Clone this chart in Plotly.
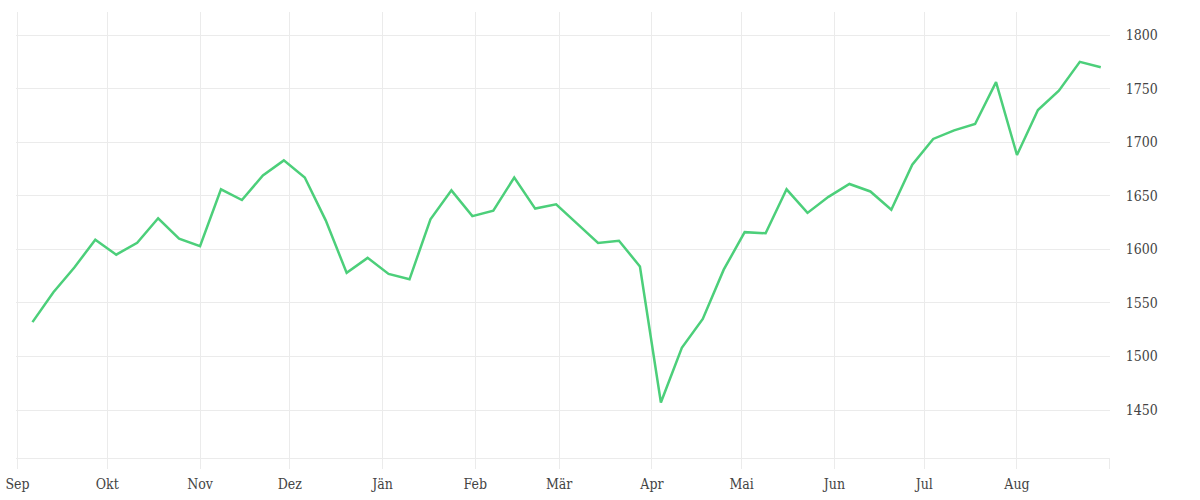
import plotly.graph_objects as go

dates = [
    "2024-09-06", "2024-09-13", "2024-09-20", "2024-09-27",
    "2024-10-04", "2024-10-11", "2024-10-18", "2024-10-25",
    "2024-11-01", "2024-11-08", "2024-11-15", "2024-11-22", "2024-11-29",
    "2024-12-06", "2024-12-13", "2024-12-20", "2024-12-27",
    "2025-01-03", "2025-01-10", "2025-01-17", "2025-01-24", "2025-01-31",
    "2025-02-07", "2025-02-14", "2025-02-21", "2025-02-28",
    "2025-03-07", "2025-03-14", "2025-03-21", "2025-03-28",
    "2025-04-04", "2025-04-11", "2025-04-18", "2025-04-25",
    "2025-05-02", "2025-05-09", "2025-05-16", "2025-05-23", "2025-05-30",
    "2025-06-06", "2025-06-13", "2025-06-20", "2025-06-27",
    "2025-07-04", "2025-07-11", "2025-07-18", "2025-07-25",
    "2025-08-01", "2025-08-08", "2025-08-15", "2025-08-22", "2025-08-29",
]

values = [
    1532, 1560, 1583, 1609,
    1595, 1606, 1629, 1610,
    1603, 1656, 1646, 1669, 1683,
    1667, 1627, 1578, 1592,
    1577, 1572, 1628, 1655, 1631,
    1636, 1667, 1638, 1642,
    1624, 1606, 1608, 1584,
    1457, 1508, 1535, 1581,
    1616, 1615, 1656, 1634, 1649,
    1661, 1654, 1637, 1679,
    1703, 1711, 1717, 1756,
    1688, 1730, 1748, 1775, 1770,
]

month_ticks = [
    "2024-09-01", "2024-10-01", "2024-11-01", "2024-12-01", "2025-01-01",
    "2025-02-01", "2025-03-01", "2025-04-01", "2025-05-01", "2025-06-01",
    "2025-07-01", "2025-08-01", "2025-09-01",
]
month_labels = ["Sep", "Okt", "Nov", "Dez", "Jän", "Feb", "Mär", "Apr",
                "Mai", "Jun", "Jul", "Aug", ""]

y_ticks = [1450, 1500, 1550, 1600, 1650, 1700, 1750, 1800]

GRID = "#ebebeb"
FONT = "DejaVu Serif Condensed, DejaVu Serif, serif"

fig = go.Figure()
fig.add_trace(go.Scatter(
    x=dates, y=values, mode="lines",
    line=dict(color="#4ccf7a", width=2.5),
    hoverinfo="x+y",
))

fig.update_layout(
    width=1200, height=500,
    margin=dict(l=16, r=90, t=12, b=42, autoexpand=False),
    paper_bgcolor="white", plot_bgcolor="white",
    showlegend=False,
    font=dict(family=FONT, size=14, color="#444"),
    xaxis=dict(
        type="date",
        range=["2024-08-31 12:00", "2025-09-01 02:00"],
        tickvals=month_ticks, ticktext=month_labels,
        showgrid=True, gridcolor=GRID, gridwidth=1,
        ticks="outside", ticklen=10, tickcolor=GRID, tickwidth=1,
        ticklabelstandoff=3, ticklabeloverflow="allow",
        showline=True, linecolor=GRID, linewidth=1,
        zeroline=False, automargin=False,
    ),
    yaxis=dict(
        side="right",
        range=[1405.2, 1821.5],
        tickvals=y_ticks,
        showgrid=True, gridcolor=GRID, gridwidth=1,
        ticks="outside", ticklen=12, tickcolor="rgba(0,0,0,0)",
        ticklabeloverflow="allow",
        showline=False, zeroline=False, automargin=False,
    ),
)

fig.write_html(
    "out.html",
    config={"displayModeBar": False},
    post_script="document.body.style.margin='0';document.body.style.overflow='hidden';",
)
